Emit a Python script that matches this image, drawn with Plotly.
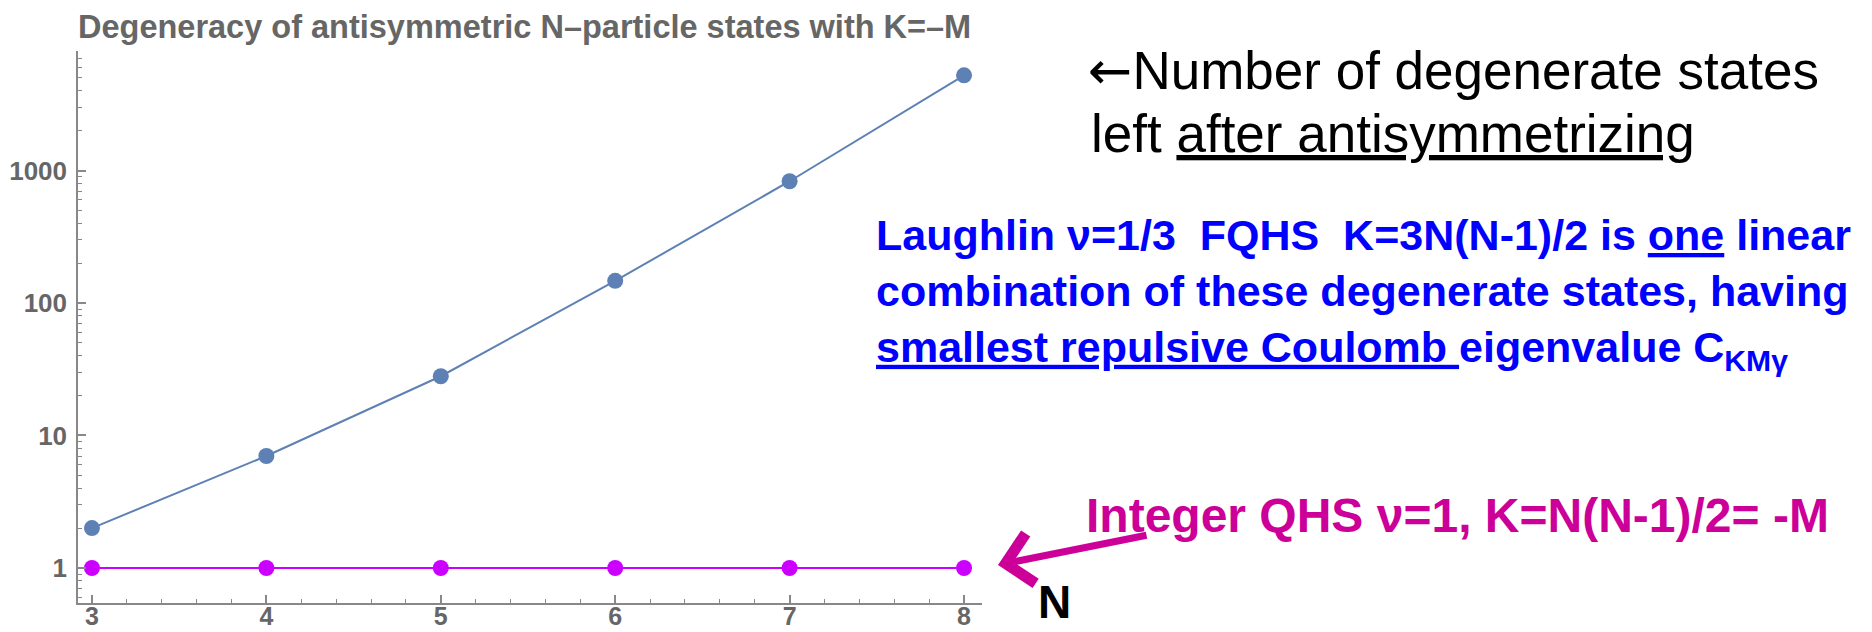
import numpy as np
import plotly.graph_objects as go

# ---- data ----
N_values = [3, 4, 5, 6, 7, 8]
antisym_degeneracy = [2, 7, 28, 147, 830, 5230]
integer_qhs_degeneracy = [1, 1, 1, 1, 1, 1]

x_tick_vals = [3, 4, 5, 6, 7, 8]
y_tick_vals = [1, 10, 100, 1000]
y_tick_text = ["1", "10", "100", "1000"]

title_text = "Degeneracy of antisymmetric N\u2013particle states with K=\u2013M"
note_black_1 = "<span style='font-family:DejaVu Sans'>\u2190</span>Number of degenerate states"
note_black_2 = "left <u>after antisymmetrizing</u>"
note_blue = ("Laughlin \u03bd=1/3\u00a0\u00a0FQHS\u00a0\u00a0K=3N(N-1)/2 is <u>one</u> linear<br>"
             "combination of these degenerate states, having<br>"
             "<u>smallest repulsive Coulomb </u>eigenvalue C<sub>KM\u03b3</sub>")
note_magenta = "Integer QHS \u03bd=1, K=N(N-1)/2= <b>-</b>M"
x_label = "N"

# ---- layout geometry ----
W, H = 1872, 632
L, R, T, B = 70, 898, 43, 37
pw, ph = W - L - R, H - T - B


def px(x):
    return (x - L) / pw


def py(y):
    return (H - B - y) / ph


y_min, y_max = 0.544, 7980
minor_y = [k * 10 ** e for e in range(-1, 4) for k in range(2, 10)
           if y_min < k * 10 ** e < y_max]

FONT = "Liberation Sans, Arial, sans-serif"
NARROW = "Liberation Sans Narrow, Arial Narrow, sans-serif"
BLUE = "#5E81B5"
MAG = "#CC00FF"
PINK = "#CC0099"
AX = "#888888"

fig = go.Figure()
fig.add_trace(go.Scatter(
    x=N_values, y=antisym_degeneracy, mode="lines+markers",
    line=dict(color=BLUE, width=2), marker=dict(color=BLUE, size=16),
    cliponaxis=False, showlegend=False))
fig.add_trace(go.Scatter(
    x=N_values, y=integer_qhs_degeneracy, mode="lines+markers",
    line=dict(color=MAG, width=2), marker=dict(color=MAG, size=16),
    cliponaxis=False, showlegend=False))

ytickfont = dict(family=NARROW, size=26, color="#666666", weight="bold")
xtickfont = dict(family=NARROW, size=25, color="#666666", weight="bold")

fig.update_layout(
    width=W, height=H,
    margin=dict(l=L, r=R, t=T, b=B, autoexpand=False),
    paper_bgcolor="white", plot_bgcolor="white",
    title=dict(text=title_text, x=70 / W, xanchor="left", y=1 - 19 / H,
               yanchor="middle", xref="container", yref="container",
               font=dict(family=FONT, size=32.5, color="#666666", weight="bold")),
    xaxis=dict(range=[2.92, 8.103], tickvals=x_tick_vals, ticks="inside",
               ticklen=8, tickwidth=1.5, tickcolor=AX, showline=True,
               linecolor=AX, linewidth=1.5, showgrid=False, zeroline=False,
               tickfont=xtickfont, ticklabelstandoff=-10, automargin=False,
               minor=dict(dtick=0.2, tick0=3, ticks="inside", ticklen=4,
                          tickcolor=AX, tickwidth=1)),
    yaxis=dict(type="log", range=[np.log10(y_min), np.log10(y_max)],
               tickvals=y_tick_vals, ticktext=y_tick_text, ticks="inside",
               ticklen=8, tickwidth=1.5, tickcolor=AX, showline=True,
               linecolor=AX, linewidth=1.5, showgrid=False, zeroline=False,
               tickfont=ytickfont, ticklabelstandoff=4, automargin=False,
               minor=dict(tickvals=minor_y, ticks="inside", ticklen=4,
                          tickcolor=AX, tickwidth=1)),
)

fig.add_annotation(text=note_black_1, xref="paper", yref="paper",
                   x=px(1078), y=py(62), xanchor="left", yanchor="middle",
                   align="left", showarrow=False,
                   font=dict(family=FONT, size=53, color="black"))
fig.add_annotation(text=note_black_2, xref="paper", yref="paper",
                   x=px(1081), y=py(125), xanchor="left", yanchor="middle",
                   align="left", showarrow=False,
                   font=dict(family=FONT, size=53, color="black"))
fig.add_annotation(text=note_blue, xref="paper", yref="paper",
                   x=px(866), y=py(286), xanchor="left", yanchor="middle",
                   align="left", showarrow=False,
                   font=dict(family=FONT, size=43, color="#0000FF", weight="bold"))
fig.add_annotation(text=note_magenta, xref="paper", yref="paper",
                   x=px(1076), y=py(507), xanchor="left", yanchor="middle",
                   align="left", showarrow=False,
                   font=dict(family=FONT, size=48, color=PINK, weight="bold"))
fig.add_annotation(text="", xref="paper", yref="paper",
                   x=px(990), y=py(557), ax=150, ay=-30,
                   showarrow=True, arrowhead=4, arrowsize=1.4, arrowwidth=7,
                   arrowcolor=PINK, standoff=0)
fig.add_annotation(text=x_label, xref="paper", yref="paper",
                   x=px(1046), y=py(594), xanchor="center", yanchor="middle",
                   showarrow=False,
                   font=dict(family=FONT, size=46, color="black", weight="bold"))

fig.write_html("out.html")
